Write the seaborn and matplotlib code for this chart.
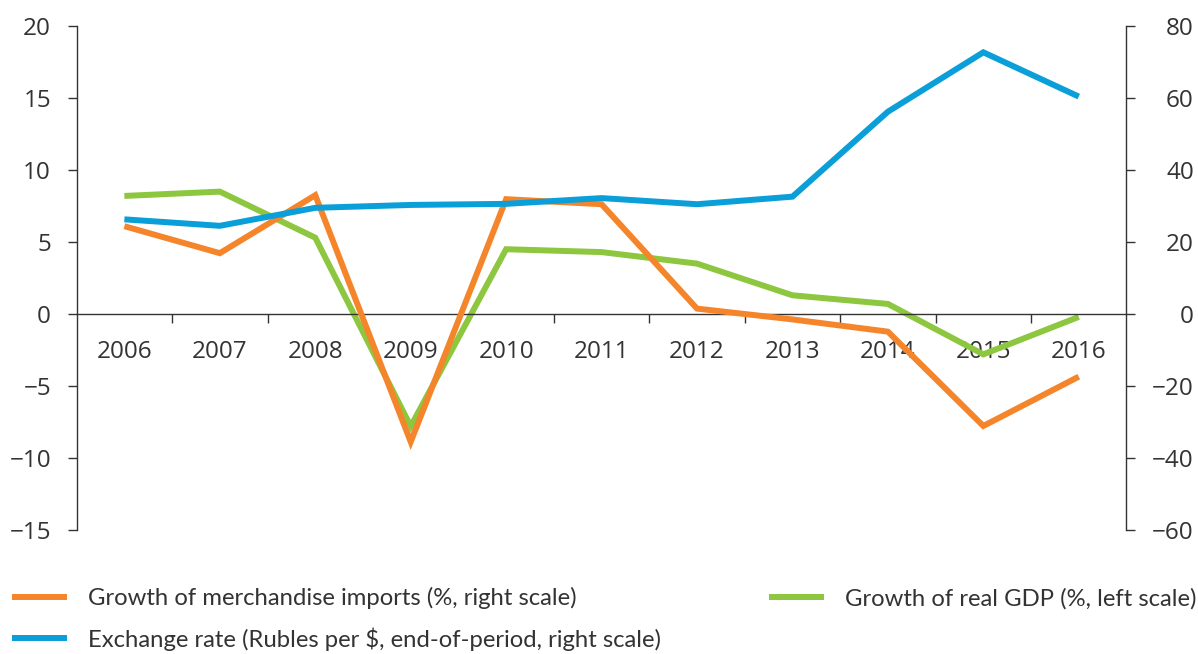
import numpy as np
import pandas as pd
import seaborn as sns
import matplotlib.pyplot as plt

years = ['2006', '2007', '2008', '2009', '2010', '2011', '2012', '2013', '2014', '2015', '2016']
gdp_growth = [8.2, 8.5, 5.3, -7.8, 4.5, 4.3, 3.5, 1.3, 0.7, -2.8, -0.2]
import_growth = [24.4, 16.9, 33.0, -35.5, 31.9, 30.5, 1.5, -1.5, -4.9, -31.1, -17.4]
exchange_rate = [26.3, 24.5, 29.5, 30.3, 30.6, 32.2, 30.5, 32.6, 56.2, 72.7, 60.4]

left_ticks = [-15, -10, -5, 0, 5, 10, 15, 20]
right_ticks = [-60, -40, -20, 0, 20, 40, 60, 80]

lbl_imports = 'Growth of merchandise imports (%, right scale)'
lbl_fx = 'Exchange rate (Rubles per $, end-of-period, right scale)'
lbl_gdp = 'Growth of real GDP (%, left scale)'

df = pd.DataFrame({
    'pos': np.arange(len(years)),
    'gdp': gdp_growth,
    'imports': import_growth,
    'fx': exchange_rate,
})

sns.set_style('white')
plt.rcParams['font.family'] = ['Open Sans', 'DejaVu Sans']

ORANGE = '#F5852A'
BLUE = '#0A9FD8'
GREEN = '#8DC63F'
DARK = '#333333'
line_kw = dict(lw=4.3, solid_joinstyle='miter', solid_capstyle='butt')

fig, ax = plt.subplots(figsize=(11.98, 6.54), dpi=100)
fig.subplots_adjust(left=0.064, right=0.9403, top=0.9602, bottom=0.1896)
ax2 = ax.twinx()

sns.lineplot(data=df, x='pos', y='gdp', ax=ax, color=GREEN, legend=False, **line_kw)
sns.lineplot(data=df, x='pos', y='imports', ax=ax2, color=ORANGE, legend=False, **line_kw)
sns.lineplot(data=df, x='pos', y='fx', ax=ax2, color=BLUE, legend=False, **line_kw)

# axes limits / ticks
ax.set_xlim(-0.5, len(years) - 0.5)
ax.set_ylim(left_ticks[0], left_ticks[-1])
ax2.set_ylim(right_ticks[0], right_ticks[-1])
ax.set_yticks(left_ticks)
ax2.set_yticks(right_ticks)
ax.set_xticks(range(len(years)))
ax.set_xticklabels(years)
ax.set_xticks(np.arange(0.5, len(years) - 1, 1), minor=True)
ax.set_xlabel('')
ax.set_ylabel('')
ax2.set_ylabel('')

ax.tick_params(axis='x', which='major', bottom=True, length=0, pad=19, labelsize=17.5, labelcolor=DARK)
ax.tick_params(axis='x', which='minor', bottom=True, length=6.5, width=1, color=DARK, direction='out')
ax.tick_params(axis='y', left=True, length=6.5, width=1, color=DARK, pad=12, labelsize=17.5, labelcolor=DARK)
ax2.tick_params(axis='y', right=True, length=6.5, width=1, color=DARK, pad=42, labelsize=17.5, labelcolor=DARK)
plt.setp(ax2.get_yticklabels(), ha='right')

for s in ['top', 'right']:
    ax.spines[s].set_visible(False)
ax.spines['bottom'].set_position(('data', 0))
for s in ['top', 'left', 'bottom']:
    ax2.spines[s].set_visible(False)
for sp in [ax.spines['left'], ax.spines['bottom'], ax2.spines['right']]:
    sp.set_color(DARK)
    sp.set_linewidth(1)

handles = [ax2.lines[0], ax2.lines[1], ax.lines[0]]
leg = fig.legend(handles, [lbl_imports, lbl_fx, lbl_gdp], loc='upper left',
                 bbox_to_anchor=(0.01, 0.102), ncol=2, frameon=False,
                 prop={'family': ['Lato', 'DejaVu Sans'], 'size': 17.2},
                 handlelength=2.3, handletextpad=0.9, columnspacing=4.5,
                 labelspacing=0.75, borderpad=0, borderaxespad=0)
for t in leg.get_texts():
    t.set_color(DARK)

fig.savefig('out.png', dpi=100)
